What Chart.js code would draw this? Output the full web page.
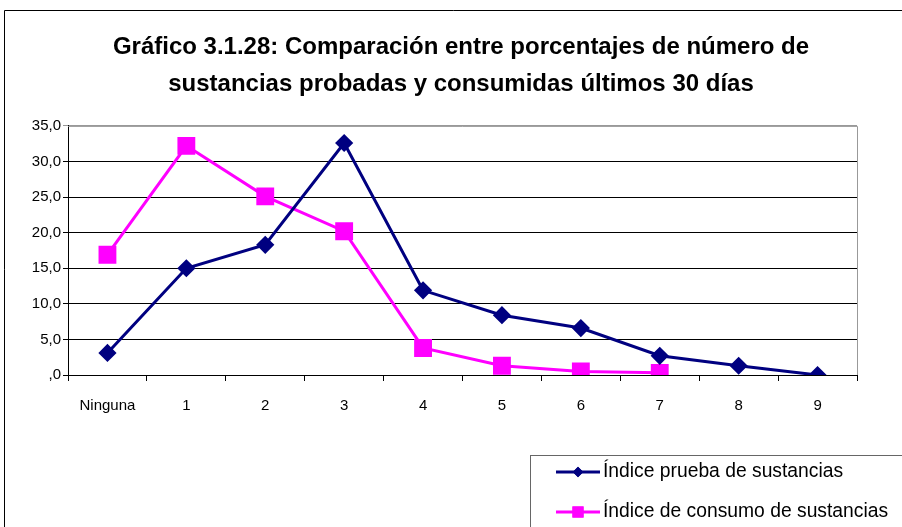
<!DOCTYPE html>
<html>
<head>
<meta charset="utf-8">
<script src="https://cdn.jsdelivr.net/npm/chart.js@4/dist/chart.umd.min.js"></script>
<style>
  html, body { margin: 0; padding: 0; background: #fff; }
  #wrap { position: relative; width: 902px; height: 527px; }
</style>
</head>
<body>
<div id="wrap"><canvas id="chart" width="902" height="527"></canvas></div>
<script>
const categories = ["Ninguna", "1", "2", "3", "4", "5", "6", "7", "8", "9"];
const pruebaValues = [3.1, 15.0, 18.3, 32.6, 11.9, 8.4, 6.6, 2.7, 1.3, 0.0];
const consumoValues = [16.9, 32.2, 25.1, 20.2, 3.8, 1.3, 0.5, 0.3, null, null];
const seriesNames = ["Índice prueba de sustancias", "Índice de consumo de sustancias"];
const titleLines = ["Gráfico 3.1.28: Comparación entre porcentajes de número de", "sustancias probadas y consumidas últimos 30 días"];

const FONT = "'Liberation Sans', Arial, sans-serif";

// frame, gray plot border and legend box
const decor = {
  id: "decor",
  beforeDraw(chart) {
    const c = chart.ctx;
    c.save();
    c.strokeStyle = "#000";
    c.lineWidth = 1;
    c.beginPath();
    c.moveTo(4.5, 530);
    c.lineTo(4.5, 10.5);
    c.lineTo(905, 10.5);
    c.stroke();
    c.restore();
  },
  beforeDatasetsDraw(chart) {
    const a = chart.chartArea, c = chart.ctx;
    c.save();
    c.strokeStyle = "#999";
    c.lineWidth = 1;
    c.beginPath();
    c.moveTo(a.left, a.top + 0.5);
    c.lineTo(a.right + 0.5, a.top + 0.5);
    c.lineTo(a.right + 0.5, a.bottom);
    c.stroke();
    c.restore();
  },
  afterDraw(chart) {
    const c = chart.ctx;
    c.save();
    c.strokeStyle = "#666";
    c.lineWidth = 1;
    c.strokeRect(530.5, 455.5, 400, 100);
    chart.data.datasets.forEach((ds, i) => {
      const y = 472 + i * 40;
      c.strokeStyle = ds.borderColor;
      c.lineWidth = 3;
      c.beginPath();
      c.moveTo(556, y);
      c.lineTo(600, y);
      c.stroke();
      c.fillStyle = ds.backgroundColor;
      Chart.helpers.drawPoint(c, { pointStyle: ds.pointStyle, radius: ds.pointRadius * 0.75, rotation: 0, borderWidth: 0 }, 578, y);
      c.fill();
      c.fillStyle = "#000";
      c.font = "19.3px " + FONT;
      c.textBaseline = "middle";
      c.fillText(ds.label, 603, y);
    });
    c.restore();
  }
};

new Chart(document.getElementById("chart"), {
  type: "line",
  data: {
    labels: categories,
    datasets: [
      {
        label: seriesNames[0],
        data: pruebaValues,
        borderColor: "#000080",
        backgroundColor: "#000080",
        borderWidth: 3,
        pointStyle: "rectRot",
        pointRadius: 7,
        pointHoverRadius: 7,
        tension: 0
      },
      {
        label: seriesNames[1],
        data: consumoValues,
        borderColor: "#FF00FF",
        backgroundColor: "#FF00FF",
        borderWidth: 3,
        pointStyle: "rect",
        pointRadius: 10.5,
        pointHoverRadius: 10.5,
        tension: 0
      }
    ]
  },
  options: {
    responsive: false,
    animation: false,
    layout: { padding: { left: 20, right: 0, top: 0, bottom: 102 } },
    plugins: {
      legend: { display: false },
      tooltip: { enabled: false },
      title: {
        display: true,
        text: titleLines,
        color: "#000",
        font: { family: FONT, size: 24, weight: "bold", lineHeight: 1.54 },
        padding: { top: 29, bottom: 23 }
      }
    },
    scales: {
      x: {
        offset: true,
        grid: { offset: true, drawOnChartArea: false, drawTicks: true, tickLength: 6, color: "#000" },
        border: { color: "#000", width: 1 },
        ticks: { color: "#000", padding: 16, font: { family: FONT, size: 15 }, maxRotation: 0 },
        afterFit(scale) { scale.height = 50; }
      },
      y: {
        min: 0,
        max: 35,
        ticks: {
          stepSize: 5,
          color: "#000",
          padding: 2,
          font: { family: FONT, size: 15 },
          callback: v => v === 0 ? ",0" : v.toFixed(1).replace(".", ",")
        },
        grid: {
          tickLength: 5,
          color: ctx => (ctx.tick && ctx.tick.value === 35) ? "#999" : "#000",
          lineWidth: 1
        },
        border: { color: "#000", width: 1 },
        afterFit(scale) { scale.width = 48; }
      },
      // empty right axis: keeps the plot clear of the right edge
      yRight: {
        position: "right",
        min: 0,
        max: 35,
        ticks: { display: false },
        grid: { display: false, drawTicks: false },
        border: { display: false },
        afterFit(scale) { scale.width = 45; }
      }
    }
  },
  plugins: [decor]
});
</script>
</body>
</html>
